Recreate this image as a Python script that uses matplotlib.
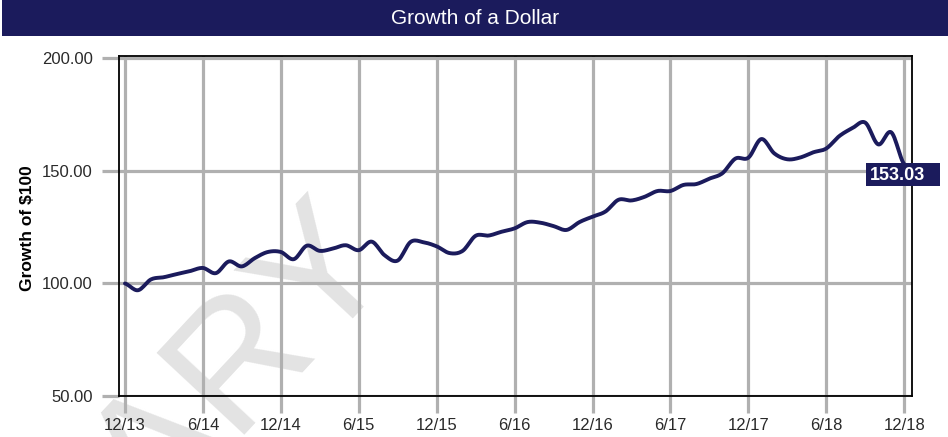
import numpy as np
import matplotlib
matplotlib.use('Agg')
import matplotlib.pyplot as plt
from matplotlib.patches import Rectangle

NAVY = '#1b1b5c'
GRID = '#b0b0b0'

# monthly growth of $100, 12/13 .. 12/18
growth = [100.0, 97.0, 101.8, 102.8, 104.2, 105.5, 106.9, 104.6, 109.8, 107.6,
          111.3, 114.0, 114.0, 110.8, 116.8, 114.5, 115.5, 117.0, 114.8, 118.6,
          112.5, 110.2, 118.5, 118.3, 116.5, 113.5, 114.5, 121.2, 121.3, 123.0,
          124.5, 127.3, 127.0, 125.5, 123.8, 127.3, 129.7, 132.0, 137.2, 136.9,
          138.5, 141.1, 141.1, 143.8, 144.2, 146.6, 149.0, 155.5, 155.9, 164.2,
          157.8, 155.2, 156.0, 158.3, 160.0, 165.5, 169.0, 171.5, 161.8, 167.2,
          153.03]
tick_months = [0, 6, 12, 18, 24, 30, 36, 42, 48, 54, 60]
tick_labels = ['12/13', '6/14', '12/14', '6/15', '12/15', '6/16',
               '12/16', '6/17', '12/17', '6/18', '12/18']
y_ticks = [50, 100, 150, 200]
title = 'Growth of a Dollar'
y_label = 'Growth of $100'
watermark = 'PRELIMINARY'


def smooth(values, steps=12):
    # catmull-rom curve through the monthly points
    v = np.asarray(values, dtype=float)
    xs, ys = [], []
    n = len(v)
    for i in range(n - 1):
        p0 = v[max(i - 1, 0)]
        p1 = v[i]
        p2 = v[i + 1]
        p3 = v[min(i + 2, n - 1)]
        t = np.linspace(0, 1, steps, endpoint=False)
        seg = 0.5 * ((2 * p1) + (-p0 + p2) * t
                     + (2 * p0 - 5 * p1 + 4 * p2 - p3) * t ** 2
                     + (-p0 + 3 * p1 - 3 * p2 + p3) * t ** 3)
        xs.append(i + t)
        ys.append(seg)
    xs.append([n - 1])
    ys.append([v[-1]])
    return np.concatenate(xs), np.concatenate(ys)


plt.rcParams['font.family'] = ['Liberation Sans', 'DejaVu Sans']

W, H = 948, 437
fig = plt.figure(figsize=(W / 100, H / 100), dpi=100)

# title bar
fig.patches.append(Rectangle((2 / W, 1 - 36 / H), 1, 36 / H,
                             transform=fig.transFigure, facecolor=NAVY,
                             edgecolor='none', zorder=5))
fig.text(475 / W, 1 - 19 / H, title, color='white', fontsize=15,
         ha='center', va='center', zorder=6)

ax = fig.add_axes([119 / W, 41 / H, (912 - 119) / W, (396 - 56) / H])
ax.patch.set_alpha(0)

# watermark behind everything
fig.text(395 / W, 1 - 258 / H, watermark, fontsize=126, color='#e3e3e3',
         rotation=47, rotation_mode='anchor', ha='right', va='baseline',
         zorder=-1)

x = np.arange(len(growth))
sx, sy = smooth(growth)
ax.plot(sx, sy, color=NAVY, lw=2.8, solid_capstyle='round', zorder=3)

ax.set_xlim(-0.46, 60.6)
ax.set_ylim(50, 201.1)
ax.set_xticks(tick_months)
ax.set_xticklabels(tick_labels)
ax.set_yticks(y_ticks)
ax.set_yticklabels(['%.2f' % t for t in y_ticks])

ax.grid(True, color=GRID, lw=2.3, zorder=1)
ax.set_axisbelow(True)
ax.tick_params(axis='both', length=12, width=2.3, color=GRID,
               labelsize=12, labelcolor='#2a2a2a')
ax.tick_params(axis='x', pad=4)
ax.tick_params(axis='y', pad=7)

for sp in ax.spines.values():
    sp.set_color('black')
    sp.set_linewidth(1.3)
    sp.set_zorder(4)

ax.set_ylabel(y_label, fontsize=12.5, fontweight='bold')
ax.yaxis.set_label_coords(-(119 - 35) / (912 - 119), (396 - 228) / (396 - 56))

# end value tag
fig.canvas.draw()
px, py = ax.transData.transform((x[-1], growth[-1]))
fig.patches.append(Rectangle((px - 38, py - 22), 74, 23, transform=None,
                             facecolor=NAVY, edgecolor='none', zorder=5))
fig.text((px - 34) / W, (py - 11) / H, '%.2f' % growth[-1], color='white',
         fontsize=13, fontweight='bold', ha='left', va='center', zorder=6)

fig.savefig('out.png', dpi=100)
